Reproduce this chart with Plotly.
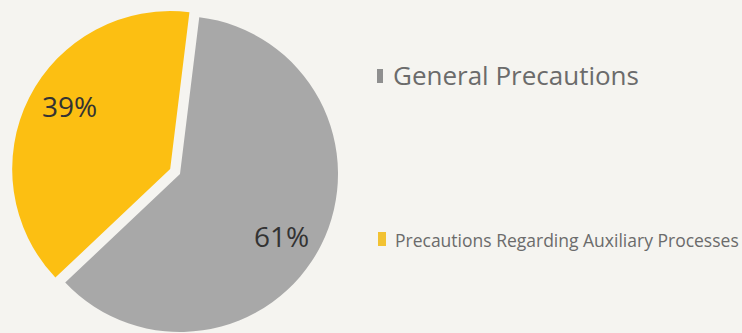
import math
import plotly.graph_objects as go

labels = ["General Precautions", "Precautions Regarding Auxiliary Processes"]
values = [61, 39]
colors = ["#a8a8a8", "#fcbf12"]
marker_colors = ["#8f8f8f", "#f2c232"]
pulled = [False, True]

W, H = 742, 333
BG = "#f5f4f0"
ROT = 7          # start angle, degrees clockwise from 12 o'clock
R = 158          # pie radius in px
CX, CY = 180, 174  # pie centre in px (from top-left)
PULL = 11        # px offset of pulled slice

total = sum(values)
angles = []
a = ROT
for v in values:
    span = 360 * v / total
    angles.append((a, a + span))
    a += span

fig = go.Figure()
for i, (lab, col) in enumerate(zip(labels, colors)):
    mid = math.radians(sum(angles[i]) / 2)
    off = PULL if pulled[i] else 0
    cx = CX + off * math.sin(mid)
    cy = CY - off * math.cos(mid)
    cols = [c if j == i else "rgba(0,0,0,0)" for j, c in enumerate(colors)]
    fig.add_trace(go.Pie(
        labels=labels, values=values, sort=False, direction="clockwise",
        rotation=ROT, marker=dict(colors=cols, line=dict(width=0)),
        textinfo="none", showlegend=False, hoverinfo="label+percent",
        domain=dict(x=[(cx - R) / W, (cx + R) / W],
                    y=[1 - (cy + R) / H, 1 - (cy - R) / H]),
    ))
    # percentage label
    la = mid + (0.09 if pulled[i] else 0.08)
    lx = cx + 0.75 * R * math.sin(la)
    ly = cy - 0.75 * R * math.cos(la)
    fig.add_annotation(x=lx / W, y=1 - ly / H, xref="paper", yref="paper",
                       text=f"{round(100 * values[i] / total)}%", showarrow=False,
                       xanchor="center", yanchor="middle",
                       font=dict(family="Open Sans", size=28, color="#333333"))

leg_y = [75, 239.5]
leg_size = [26, 17.5]
leg_x = [391, 393]
sq = [(377, 383, 69, 83), (378, 386, 232, 246)]
for lab, col, y, s, x, (x0, x1, y0, y1) in zip(labels, marker_colors, leg_y, leg_size, leg_x, sq):
    fig.add_annotation(x=x / W, y=1 - y / H, xref="paper", yref="paper", text=lab,
                       showarrow=False, xanchor="left", yanchor="middle",
                       font=dict(family="Open Sans", size=s, color="#6b6b6b"))
    fig.add_shape(type="rect", xref="paper", yref="paper",
                  x0=x0 / W, x1=x1 / W, y0=1 - y1 / H, y1=1 - y0 / H,
                  fillcolor=col, line=dict(width=0))

fig.update_layout(width=W, height=H, margin=dict(l=0, r=0, t=0, b=0),
                  paper_bgcolor=BG, plot_bgcolor=BG)
fig.write_html("out.html", config={"displayModeBar": False},
               post_script="document.body.style.margin='0';")
